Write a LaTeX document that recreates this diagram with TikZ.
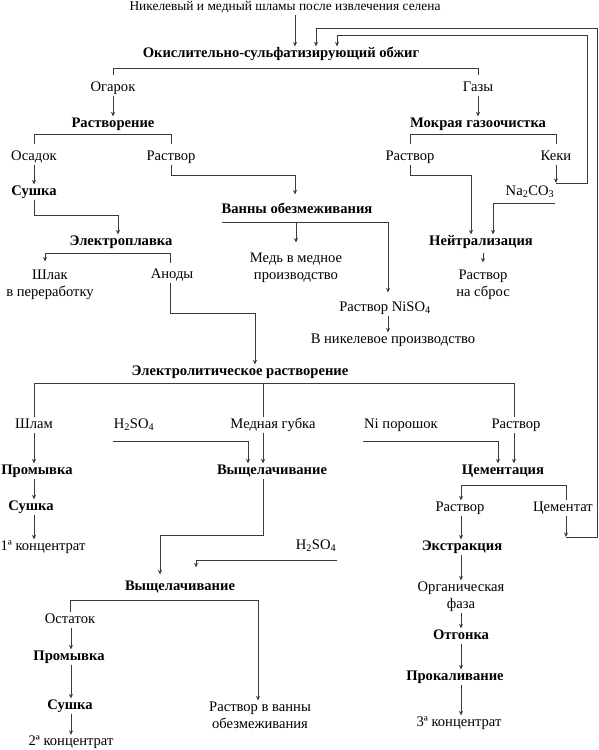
\documentclass[tikz,border=0pt]{standalone}
\usepackage{fontspec}
\setmainfont{Liberation Serif}
\usepackage{tikz}
\usetikzlibrary{arrows.meta}
\definecolor{lineGray}{RGB}{52,58,74}

\begin{document}
\begin{tikzpicture}[x=1pt, y=-1pt, >={Stealth[length=4.5pt,width=4pt]}]
  \tikzset{every node/.style={font=\fontsize{14.6}{17}\selectfont, inner sep=1pt, text height=9.8pt, text depth=3pt},
    op/.style={font=\fontsize{14.6}{17}\selectfont\bfseries},
    head/.style={font=\fontsize{13.4}{16}\selectfont},
    two/.style={align=center, text height=, text depth=},
    ln/.style={draw=lineGray, line width=0.8pt},
    br/.style={ln, shorten <=5pt, shorten >=5pt}}
  \useasboundingbox (0,0) rectangle (598,750);
  \node[head](PR-0) at (285,7) {Никелевый и медный шламы после извлечения селена};
  \node[op](OP-1) at (281,54) {Окислительно-сульфатизирующий обжиг};
  \node(PR-1-1) at (113,88) {Огарок};
  \node(PR-1-2) at (478,88) {Газы};
  \node[op](OP-2) at (113,124) {Растворение};
  \node[op](OP-3) at (478,124) {Мокрая газоочистка};
  \node(PR-2-1) at (34,157) {Осадок};
  \node(PR-2-2) at (171,157) {Раствор};
  \node(PR-3-1) at (410,157) {Раствор};
  \node(PR-3-2) at (556,157) {Кеки};
  \node[op](OP-4) at (34,192) {Сушка};
  \node(IN-1) at (530,192) {Na\textsubscript{2}CO\textsubscript{3}};
  \node[op](OP-5) at (297,210) {Ванны обезмеживания};
  \node[op](OP-6) at (121,242) {Электроплавка};
  \node[op](OP-7) at (481,242) {Нейтрализация};
  \node[two](PR-4) at (296,267.5) {Медь в медное\\производство};
  \node[two](PR-5-1) at (50,284.5) {Шлак\\в переработку};
  \node(PR-5-2) at (172,275) {Аноды};
  \node[two](PR-6) at (483,284.5) {Раствор\\на сброс};
  \node(PR-7) at (385,308) {Раствор NiSO\textsubscript{4}};
  \node(PR-8) at (393,340) {В никелевое производство};
  \node[op](OP-8) at (240,372) {Электролитическое растворение};
  \node(PR-9-1) at (34,425) {Шлам};
  \node(IN-2) at (134,425) {H\textsubscript{2}SO\textsubscript{4}};
  \node(PR-9-2) at (273,425) {Медная губка};
  \node(IN-3) at (401,425) {Ni порошок};
  \node(PR-9-3) at (516,425) {Раствор};
  \node[op](OP-9) at (37,471) {Промывка};
  \node[op](OP-10) at (272,471) {Выщелачивание};
  \node[op](OP-11) at (503,471) {Цементация};
  \node[op](OP-12) at (31,507) {Сушка};
  \node(PR-10-1) at (460,508) {Раствор};
  \node(PR-10-2) at (563,508) {Цементат};
  \node(PR-11) at (43,547) {1ª концентрат};
  \node(IN-4) at (316,546) {H\textsubscript{2}SO\textsubscript{4}};
  \node[op](OP-13) at (462,547) {Экстракция};
  \node[op](OP-14) at (180,587) {Выщелачивание};
  \node[two](PR-12) at (461,596.5) {Органическая\\фаза};
  \node(PR-13) at (70,620) {Остаток};
  \node[op](OP-15) at (461,636) {Отгонка};
  \node[op](OP-16) at (69,657) {Промывка};
  \node[op](OP-17) at (455,677) {Прокаливание};
  \node[op](OP-18) at (70,706) {Сушка};
  \node[two](PR-14) at (260,715) {Раствор в ванны\\обезмеживания};
  \node(PR-15) at (459,723) {3ª концентрат};
  \node(PR-16) at (71,742.5) {2ª концентрат};
  \coordinate(LP-1) at (587,35);
  \coordinate(LP-2) at (597,28);
  \coordinate(BR-5) at (222,222);
  \draw[->,ln] ([xshift=10pt]PR-0.south) -- ([xshift=14pt]OP-1.north);
  \draw[br] (PR-1-1.north) -- (PR-1-1.north |- 0,68) -| (PR-1-2.north);
  \draw[->,ln] (PR-1-1) -- (OP-2);
  \draw[->,ln] (PR-1-2) -- (OP-3);
  \draw[br] (PR-2-1.north) -- (PR-2-1.north |- 0,134) -| (PR-2-2.north);
  \draw[br] (PR-3-1.north) -- (PR-3-1.north |- 0,134) -| (PR-3-2.north);
  \draw[->,ln] (PR-2-1) -- (OP-4);
  \draw[->,ln,shorten >=8pt] (PR-2-2.south) |- ([xshift=-2pt]OP-5.north |- 0,175) -- ([xshift=-2pt]OP-5.north);
  \draw[->,ln] (PR-3-1.south) |- ([xshift=-10pt]OP-7.north |- 0,175) -- ([xshift=-10pt]OP-7.north);
  \draw[->,ln] ([yshift=-4pt]IN-1.south east) -| ([xshift=12pt]OP-7.north);
  \draw[->,ln] (PR-3-2.south) -- (PR-3-2.south |- 0,183);
  \draw[->,ln] (PR-3-2.south |- 0,183) -| (LP-1) -| ([xshift=56pt]OP-1.north);
  \draw[->,ln,shorten >=6pt,shorten <=3pt] ([xshift=2pt]OP-7.south) -- ([xshift=2pt]OP-7.south |- PR-6.north);
  \draw[->,ln,shorten >=8pt] (BR-5) -| ([xshift=3pt]PR-7.north);
  \draw[->,ln,shorten >=9pt] (BR-5 -| PR-4) -- (PR-4.north);
  \draw[->,ln] ([xshift=3pt]PR-7.south) -- ([xshift=-5pt]PR-8.north);
  \draw[->,ln] (OP-4.south) |- ([xshift=-3pt]OP-6.north |- 0,215) -- ([xshift=-3pt]OP-6.north);
  \draw[->,ln,shorten <=4pt,shorten >=7pt] ([xshift=-2pt]PR-5-2.north) |- ([xshift=-5pt]PR-5-1.north |- 0,253) -- ([xshift=-5pt]PR-5-1.north);
  \draw[->,ln] ([xshift=-2pt]PR-5-2.south) |- ([xshift=15pt]OP-8.north |- 0,313) -- ([xshift=15pt]OP-8.north);
  \draw[ln] (PR-9-1.north) |- ([xshift=-2pt]PR-9-3.north |- 0,383) -- ([xshift=-2pt]PR-9-3.north);
  \draw[ln] ([xshift=-10pt]PR-9-2.north) -- ([xshift=-10pt]PR-9-2.north |- 0,383);
  \draw[->,ln] (PR-9-1.south) -- (PR-9-1.south |- OP-9.north);
  \draw[->,ln] ([yshift=-9pt]IN-2.south west) -| ([xshift=-24pt]OP-10.north);
  \draw[->,ln] ([xshift=-10pt]PR-9-2.south) -- ([xshift=-10pt]PR-9-2.south |- OP-10.north);
  \draw[->,ln] ([yshift=-9pt]IN-3.south west) -| ([xshift=-5pt]OP-11.north);
  \draw[->,ln] ([xshift=-2pt]PR-9-3.south) -- ([xshift=-2pt]PR-9-3.south |- OP-11.north);
  \draw[->,ln] ([xshift=-3pt]OP-9.south) -- ([xshift=-3pt]OP-9.south |- OP-12.north);
  \draw[->,ln] ([xshift=3pt]OP-12.south) -- ([xshift=3pt]OP-12.south |- PR-11.north);
  \draw[->,ln,shorten >=5pt] ([xshift=-9pt]OP-10.south) |- ([xshift=-20pt]OP-14.north |- 0,535) -- ([xshift=-20pt]OP-14.north);
  \draw[->,ln,shorten >=12pt] ([yshift=-7pt]IN-4.south east) -| ([xshift=16pt]OP-14.north);
  \draw[->,ln] ([xshift=3pt]PR-10-2.north) |- ([xshift=1pt]PR-10-1.north |- 0,485) -- ([xshift=1pt]PR-10-1.north);
  \draw[->,ln] ([xshift=3pt]PR-10-2.south) -- ([xshift=3pt]PR-10-2.south |- 0,537);
  \draw[->,ln] ([xshift=3pt]PR-10-2.south |- 0,537) -| (LP-2) -| ([xshift=35pt]OP-1.north);
  \draw[->,ln] ([xshift=1pt]PR-10-1.south) -- ([xshift=1pt]PR-10-1.south |- OP-13.north);
  \draw[->,ln] (PR-12.north |- OP-13.south) -- (PR-12.north);
  \draw[->,ln] (PR-12.south) -- (PR-12.south |- OP-15.north);
  \draw[->,ln] (OP-15.south) -- (OP-15.south |- OP-17.north);
  \draw[->,ln] ([xshift=2pt]PR-15.north |- OP-17.south) -- ([xshift=2pt]PR-15.north);
  \draw[->,ln] (PR-13.north) |- ([xshift=-2pt]PR-14.north |- 0,600) -- ([xshift=-2pt]PR-14.north);
  \draw[->,ln] ([xshift=1pt]PR-13.south) -- ([xshift=1pt]PR-13.south |- OP-16.north);
  \draw[->,ln] ([xshift=2pt]OP-16.south) -- ([xshift=2pt]OP-16.south |- OP-18.north);
  \draw[->,ln] ([xshift=1pt]OP-18.south) -- ([xshift=1pt]OP-18.south |- PR-16.north);
\end{tikzpicture}
\end{document}
